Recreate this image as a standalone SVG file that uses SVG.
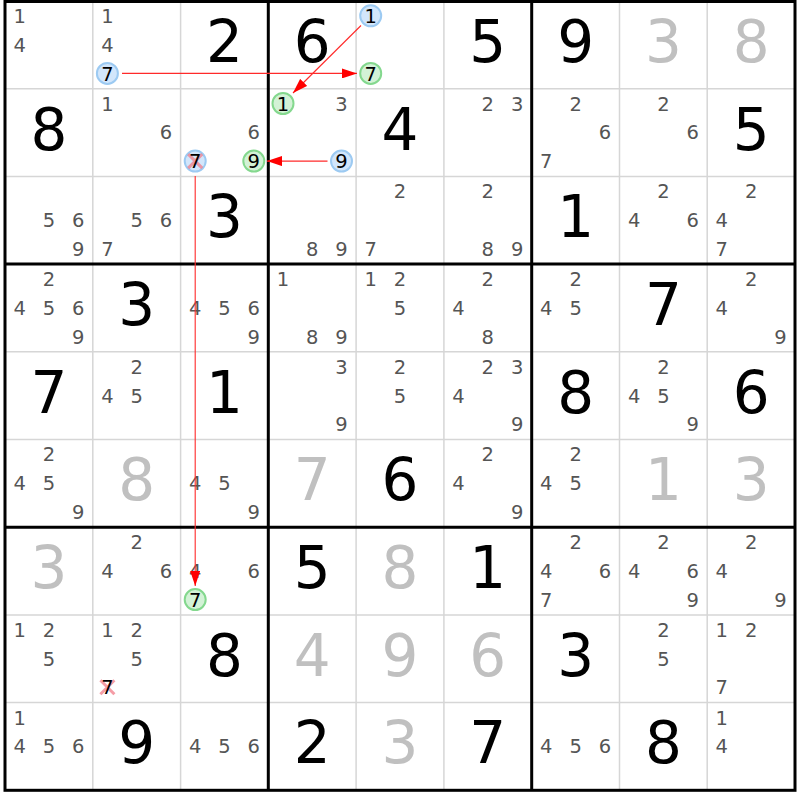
<svg xmlns="http://www.w3.org/2000/svg" width="800" height="800" viewBox="0 0 800 800">
<style>
text{font-family:"DejaVu Sans","Noto Sans",sans-serif;text-anchor:middle}
.c{font-size:19.5px;fill:#555}
.k{font-size:19.5px;fill:#000}
.g{font-size:58px;fill:#000}
.s{font-size:58px;fill:#c0c0c0}
.thin{stroke:#d6d6d6;stroke-width:1.5;fill:none}
.thick{stroke:#000;stroke-width:3;fill:none}
.bc{fill:#d2e6fb;stroke:#9ccaf2;stroke-width:2}
.gc{fill:#d3f2d6;stroke:#84d88e;stroke-width:2}
.x{stroke:#f27c88;stroke-opacity:0.75;stroke-width:3}
.ar{stroke:#ff2a2a;stroke-width:1.1;fill:none;marker-end:url(#ah)}
</style>
<defs>
<marker id="ah" markerUnits="userSpaceOnUse" markerWidth="15" markerHeight="10" refX="15" refY="5" orient="auto">
<path d="M0,0 L15,5 L0,10 z" fill="#ff0000"/>
</marker>
</defs>
<rect width="800" height="800" fill="#fff"/>
<g id="grid">
<path class="thin" d="M92.8,1V790.3M180.6,1V790.3M356.1,1V790.3M443.9,1V790.3M619.5,1V790.3M707.2,1V790.3M5,88.7H795M5,176.4H795M5,351.8H795M5,439.5H795M5,614.9H795M5,702.6H795"/>
<path class="thick" d="M268.3,1V790.3M531.7,1V790.3M5,264.1H795M5,527.2H795"/>
<rect class="thick" x="5" y="1.5" width="790" height="788.8"/>
</g>
<g id="r0c0"><text class="c" x="19.6" y="22.9">1</text><text class="c" x="19.6" y="51.7">4</text></g>
<g id="r0c1"><text class="c" x="107.4" y="22.9">1</text><text class="c" x="107.4" y="51.7">4</text><circle class="bc" cx="107.4" cy="73.4" r="10.5"/><text class="k" x="107.4" y="80.5">7</text></g>
<g id="r0c2"><text class="g" x="224.5" y="62">2</text></g>
<g id="r0c3"><text class="g" x="312.2" y="62">6</text></g>
<g id="r0c4"><circle class="bc" cx="370.7" cy="15.8" r="10.5"/><text class="k" x="370.7" y="22.9">1</text><circle class="gc" cx="370.7" cy="73.4" r="10.5"/><text class="k" x="370.7" y="80.5">7</text></g>
<g id="r0c5"><text class="g" x="487.8" y="62">5</text></g>
<g id="r0c6"><text class="g" x="575.6" y="62">9</text></g>
<g id="r0c7"><text class="s" x="663.4" y="62">3</text></g>
<g id="r0c8"><text class="s" x="751.1" y="62">8</text></g>

<g id="r1c0"><text class="g" x="48.9" y="149.5">8</text></g>
<g id="r1c1"><text class="c" x="107.4" y="110.6">1</text><text class="c" x="166" y="139.4">6</text></g>
<g id="r1c2"><text class="c" x="253.8" y="139.4">6</text><circle class="bc" cx="195.2" cy="161.1" r="10.5"/><path class="x" d="M188.2,154.1L202.2,168.1M202.2,154.1L188.2,168.1"/><text class="k" x="195.2" y="168.2">7</text><circle class="gc" cx="253.8" cy="161.1" r="10.5"/><text class="k" x="253.8" y="168.2">9</text></g>
<g id="r1c3"><circle class="gc" cx="283" cy="103.5" r="10.5"/><text class="k" x="283" y="110.6">1</text><text class="c" x="341.5" y="110.6">3</text><circle class="bc" cx="341.5" cy="161.1" r="10.5"/><text class="k" x="341.5" y="168.2">9</text></g>
<g id="r1c4"><text class="g" x="400" y="149.5">4</text></g>
<g id="r1c5"><text class="c" x="487.8" y="110.6">2</text><text class="c" x="517.1" y="110.6">3</text></g>
<g id="r1c6"><text class="c" x="575.6" y="110.6">2</text><text class="c" x="604.9" y="139.4">6</text><text class="c" x="546.3" y="168.2">7</text></g>
<g id="r1c7"><text class="c" x="663.4" y="110.6">2</text><text class="c" x="692.7" y="139.4">6</text></g>
<g id="r1c8"><text class="g" x="751.1" y="149.5">5</text></g>

<g id="r2c0"><text class="c" x="48.9" y="227.1">5</text><text class="c" x="78.2" y="227.1">6</text><text class="c" x="78.2" y="255.9">9</text></g>
<g id="r2c1"><text class="c" x="136.7" y="227.1">5</text><text class="c" x="166" y="227.1">6</text><text class="c" x="107.4" y="255.9">7</text></g>
<g id="r2c2"><text class="g" x="224.5" y="237.2">3</text></g>
<g id="r2c3"><text class="c" x="312.2" y="255.9">8</text><text class="c" x="341.5" y="255.9">9</text></g>
<g id="r2c4"><text class="c" x="400" y="198.3">2</text><text class="c" x="370.7" y="255.9">7</text></g>
<g id="r2c5"><text class="c" x="487.8" y="198.3">2</text><text class="c" x="487.8" y="255.9">8</text><text class="c" x="517.1" y="255.9">9</text></g>
<g id="r2c6"><text class="g" x="575.6" y="237.2">1</text></g>
<g id="r2c7"><text class="c" x="663.4" y="198.3">2</text><text class="c" x="634.1" y="227.1">4</text><text class="c" x="692.7" y="227.1">6</text></g>
<g id="r2c8"><text class="c" x="751.1" y="198.3">2</text><text class="c" x="721.8" y="227.1">4</text><text class="c" x="721.8" y="255.9">7</text></g>

<g id="r3c0"><text class="c" x="48.9" y="286">2</text><text class="c" x="19.6" y="314.8">4</text><text class="c" x="48.9" y="314.8">5</text><text class="c" x="78.2" y="314.8">6</text><text class="c" x="78.2" y="343.6">9</text></g>
<g id="r3c1"><text class="g" x="136.7" y="325">3</text></g>
<g id="r3c2"><text class="c" x="195.2" y="314.8">4</text><text class="c" x="224.5" y="314.8">5</text><text class="c" x="253.8" y="314.8">6</text><text class="c" x="253.8" y="343.6">9</text></g>
<g id="r3c3"><text class="c" x="283" y="286">1</text><text class="c" x="312.2" y="343.6">8</text><text class="c" x="341.5" y="343.6">9</text></g>
<g id="r3c4"><text class="c" x="370.7" y="286">1</text><text class="c" x="400" y="286">2</text><text class="c" x="400" y="314.8">5</text></g>
<g id="r3c5"><text class="c" x="487.8" y="286">2</text><text class="c" x="458.5" y="314.8">4</text><text class="c" x="487.8" y="343.6">8</text></g>
<g id="r3c6"><text class="c" x="575.6" y="286">2</text><text class="c" x="546.3" y="314.8">4</text><text class="c" x="575.6" y="314.8">5</text></g>
<g id="r3c7"><text class="g" x="663.4" y="325">7</text></g>
<g id="r3c8"><text class="c" x="751.1" y="286">2</text><text class="c" x="721.8" y="314.8">4</text><text class="c" x="780.4" y="343.6">9</text></g>

<g id="r4c0"><text class="g" x="48.9" y="412.6">7</text></g>
<g id="r4c1"><text class="c" x="136.7" y="373.7">2</text><text class="c" x="107.4" y="402.5">4</text><text class="c" x="136.7" y="402.5">5</text></g>
<g id="r4c2"><text class="g" x="224.5" y="412.6">1</text></g>
<g id="r4c3"><text class="c" x="341.5" y="373.7">3</text><text class="c" x="341.5" y="431.3">9</text></g>
<g id="r4c4"><text class="c" x="400" y="373.7">2</text><text class="c" x="400" y="402.5">5</text></g>
<g id="r4c5"><text class="c" x="487.8" y="373.7">2</text><text class="c" x="517.1" y="373.7">3</text><text class="c" x="458.5" y="402.5">4</text><text class="c" x="517.1" y="431.3">9</text></g>
<g id="r4c6"><text class="g" x="575.6" y="412.6">8</text></g>
<g id="r4c7"><text class="c" x="663.4" y="373.7">2</text><text class="c" x="634.1" y="402.5">4</text><text class="c" x="663.4" y="402.5">5</text><text class="c" x="692.7" y="431.3">9</text></g>
<g id="r4c8"><text class="g" x="751.1" y="412.6">6</text></g>

<g id="r5c0"><text class="c" x="48.9" y="461.4">2</text><text class="c" x="19.6" y="490.2">4</text><text class="c" x="48.9" y="490.2">5</text><text class="c" x="78.2" y="519">9</text></g>
<g id="r5c1"><text class="s" x="136.7" y="500.3">8</text></g>
<g id="r5c2"><text class="c" x="195.2" y="490.2">4</text><text class="c" x="224.5" y="490.2">5</text><text class="c" x="253.8" y="519">9</text></g>
<g id="r5c3"><text class="s" x="312.2" y="500.3">7</text></g>
<g id="r5c4"><text class="g" x="400" y="500.3">6</text></g>
<g id="r5c5"><text class="c" x="487.8" y="461.4">2</text><text class="c" x="458.5" y="490.2">4</text><text class="c" x="517.1" y="519">9</text></g>
<g id="r5c6"><text class="c" x="575.6" y="461.4">2</text><text class="c" x="546.3" y="490.2">4</text><text class="c" x="575.6" y="490.2">5</text></g>
<g id="r5c7"><text class="s" x="663.4" y="500.3">1</text></g>
<g id="r5c8"><text class="s" x="751.1" y="500.3">3</text></g>

<g id="r6c0"><text class="s" x="48.9" y="588">3</text></g>
<g id="r6c1"><text class="c" x="136.7" y="549.1">2</text><text class="c" x="107.4" y="577.9">4</text><text class="c" x="166" y="577.9">6</text></g>
<g id="r6c2"><text class="c" x="195.2" y="577.9">4</text><text class="c" x="253.8" y="577.9">6</text><circle class="gc" cx="195.2" cy="599.6" r="10.5"/><text class="k" x="195.2" y="606.7">7</text></g>
<g id="r6c3"><text class="g" x="312.2" y="588">5</text></g>
<g id="r6c4"><text class="s" x="400" y="588">8</text></g>
<g id="r6c5"><text class="g" x="487.8" y="588">1</text></g>
<g id="r6c6"><text class="c" x="575.6" y="549.1">2</text><text class="c" x="546.3" y="577.9">4</text><text class="c" x="604.9" y="577.9">6</text><text class="c" x="546.3" y="606.7">7</text></g>
<g id="r6c7"><text class="c" x="663.4" y="549.1">2</text><text class="c" x="634.1" y="577.9">4</text><text class="c" x="692.7" y="577.9">6</text><text class="c" x="692.7" y="606.7">9</text></g>
<g id="r6c8"><text class="c" x="751.1" y="549.1">2</text><text class="c" x="721.8" y="577.9">4</text><text class="c" x="780.4" y="606.7">9</text></g>

<g id="r7c0"><text class="c" x="19.6" y="636.8">1</text><text class="c" x="48.9" y="636.8">2</text><text class="c" x="48.9" y="665.6">5</text></g>
<g id="r7c1"><text class="c" x="107.4" y="636.8">1</text><text class="c" x="136.7" y="636.8">2</text><text class="c" x="136.7" y="665.6">5</text><path class="x" d="M100.4,680.3L114.4,694.3M114.4,680.3L100.4,694.3"/><text class="k" x="107.4" y="694.4">7</text></g>
<g id="r7c2"><text class="g" x="224.5" y="675.7">8</text></g>
<g id="r7c3"><text class="s" x="312.2" y="675.7">4</text></g>
<g id="r7c4"><text class="s" x="400" y="675.7">9</text></g>
<g id="r7c5"><text class="s" x="487.8" y="675.7">6</text></g>
<g id="r7c6"><text class="g" x="575.6" y="675.7">3</text></g>
<g id="r7c7"><text class="c" x="663.4" y="636.8">2</text><text class="c" x="663.4" y="665.6">5</text></g>
<g id="r7c8"><text class="c" x="721.8" y="636.8">1</text><text class="c" x="751.1" y="636.8">2</text><text class="c" x="721.8" y="694.4">7</text></g>

<g id="r8c0"><text class="c" x="19.6" y="724.5">1</text><text class="c" x="19.6" y="753.3">4</text><text class="c" x="48.9" y="753.3">5</text><text class="c" x="78.2" y="753.3">6</text></g>
<g id="r8c1"><text class="g" x="136.7" y="763.4">9</text></g>
<g id="r8c2"><text class="c" x="195.2" y="753.3">4</text><text class="c" x="224.5" y="753.3">5</text><text class="c" x="253.8" y="753.3">6</text></g>
<g id="r8c3"><text class="g" x="312.2" y="763.4">2</text></g>
<g id="r8c4"><text class="s" x="400" y="763.4">3</text></g>
<g id="r8c5"><text class="g" x="487.8" y="763.4">7</text></g>
<g id="r8c6"><text class="c" x="546.3" y="753.3">4</text><text class="c" x="575.6" y="753.3">5</text><text class="c" x="604.9" y="753.3">6</text></g>
<g id="r8c7"><text class="g" x="663.4" y="763.4">8</text></g>
<g id="r8c8"><text class="c" x="721.8" y="724.5">1</text><text class="c" x="721.8" y="753.3">4</text></g>

<g id="connectors">
<line class="ar" x1="122" y1="73.4" x2="357" y2="73.4"/>
<line class="ar" x1="361" y1="25.5" x2="293" y2="93"/>
<line class="ar" x1="327.5" y1="161.1" x2="267" y2="161.1"/>
<line class="ar" x1="195.2" y1="176" x2="195.2" y2="586"/>
</g>
</svg>
